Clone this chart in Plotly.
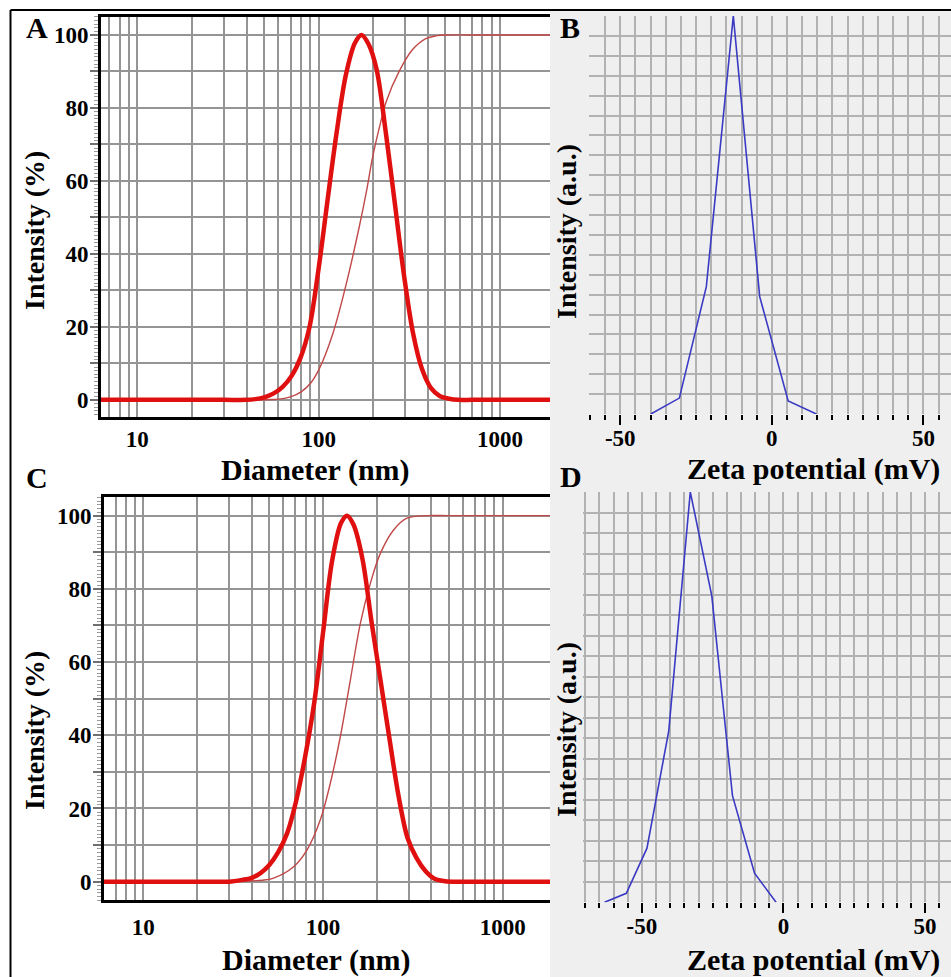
import math
import plotly.graph_objects as go

W, H = 951, 977

# ---------------- data ----------------
# Panel A: size distribution (intensity, thick) and cumulative curve (thin)
A_x = [6.3, 15, 30, 40, 44.7, 50.1, 56.2, 63.1, 70.8, 79.4, 89.1, 100, 112.2, 125.9, 141.3, 158.5, 172.6,
       188.4, 208.9, 234.4, 263, 295.1, 331.1, 371.5, 416.9, 467.7, 524.8, 588.8, 700, 1000, 1890]
A_y = [0, 0, 0, 0, 0.2, 0.7, 1.7, 3.5, 6.5, 11.5, 20, 36, 55, 73.5, 89, 97.8, 100,
       97.5, 90.5, 73.5, 54, 34.5, 18.5, 8.5, 3.2, 1.0, 0.3, 0, 0, 0, 0]
A_cum_x = [6.3, 20, 40, 55, 60, 70, 80, 90, 100.8, 119.5, 141.6, 167.7, 185, 198.5, 221, 235, 278, 330,
           390, 450, 500, 700, 1000, 1890]
A_cum_y = [0, 0, 0, 0.1, 0.2, 0.8, 2.2, 4.5, 8.5, 18, 31.5, 47.5, 58, 66.5, 76.5, 81.5, 90, 96,
           99, 99.8, 100, 100, 100, 100]

# Panel C
C_x = [6.04, 15, 25, 30, 35.5, 39.8, 44.7, 50.1, 56.2, 63.1, 70.8, 79.4, 89.1, 100, 112.2, 125.9, 136.1,
       147.9, 166, 186.2, 208.9, 234.4, 263, 295.1, 331.1, 371.5, 416.9, 467.7, 524.8, 700, 1833]
C_y = [0, 0, 0, 0, 0.5, 1.0, 2.3, 4.5, 8, 13.2, 22, 34, 48.5, 68, 87.5, 98, 100,
       97.5, 88, 71, 55, 39, 23.5, 12, 6.5, 2.9, 0.8, 0.2, 0, 0, 0]
C_cum_x = [6.04, 20, 30, 34.7, 46, 53.1, 68.6, 81.5, 96.6, 109.8, 124.8, 141.9, 161.3, 183.4, 208.5, 247,
           293, 380, 500, 800, 1833]
C_cum_y = [0, 0, 0, 0.1, 0.4, 1, 4.1, 8.7, 16.9, 26.9, 39.6, 55.1, 70.6, 81.5, 89.7, 96.1,
           99.3, 100, 100, 100, 100]

# Panels B and D: zeta potential
B_x = [-39.9, -30.5, -21.6, -12.7, -4.0, 5.4, 14.7]
B_y = [0, 4.0, 32.0, 100, 29.5, 3.3, 0]
D_x = [-63.2, -55.5, -48.2, -40.5, -32.9, -25.3, -18.0, -10.2, -2.6]
D_y = [0, 2.2, 13.2, 41.8, 100, 74.7, 26.0, 7.1, 0]

# tick labels
log_tickvals = [7, 8, 9, 10, 20, 30, 40, 50, 60, 70, 80, 90, 100, 200, 300, 400, 500, 600, 700, 800, 900, 1000]
log_ticktext = ["", "", "", "10", "", "", "", "", "", "", "", "", "100", "", "", "", "", "", "", "", "", "1000"]
pct_tickvals = [0, 10, 20, 30, 40, 50, 60, 70, 80, 90, 100]
pct_ticktext = ["0", "", "20", "", "40", "", "60", "", "80", "", "100"]
zeta_tickvals = [-50, 0, 50]
zeta_ticktext = ["-50", "0", "50"]

# ---------------- helpers ----------------
def px_x(x):
    return x / W


def px_y(y):
    return 1 - y / H


SERIF = "Liberation Serif, Times New Roman, serif"
GRID_L = "#959595"
GRID_R = "#b2b2b2"
THICK = "#e01010"
THIN = "#c04848"
BLUE = "#3a3ac4"

fig = go.Figure()

# size distributions
fig.add_trace(go.Scatter(x=A_cum_x, y=A_cum_y, mode="lines", line=dict(color=THIN, width=1.4, shape="spline", smoothing=1.0),
                         xaxis="x", yaxis="y", showlegend=False))
fig.add_trace(go.Scatter(x=A_x, y=A_y, mode="lines", line=dict(color=THICK, width=4.5, shape="spline", smoothing=0.9),
                         xaxis="x", yaxis="y", showlegend=False))
fig.add_trace(go.Scatter(x=C_cum_x, y=C_cum_y, mode="lines", line=dict(color=THIN, width=1.4, shape="spline", smoothing=1.0),
                         xaxis="x2", yaxis="y2", showlegend=False))
fig.add_trace(go.Scatter(x=C_x, y=C_y, mode="lines", line=dict(color=THICK, width=4.5, shape="spline", smoothing=0.9),
                         xaxis="x2", yaxis="y2", showlegend=False))
# zeta potentials
fig.add_trace(go.Scatter(x=B_x, y=B_y, mode="lines", line=dict(color=BLUE, width=1.6),
                         xaxis="x3", yaxis="y3", showlegend=False, cliponaxis=False))
fig.add_trace(go.Scatter(x=D_x, y=D_y, mode="lines", line=dict(color=BLUE, width=1.6),
                         xaxis="x4", yaxis="y4", showlegend=False, cliponaxis=False))

tickfont = dict(family=SERIF, size=23, color="black", weight="bold")


def log_xaxis(x0, x1, lo, hi, anchor, standoff):
    return dict(domain=[px_x(x0), px_x(x1)], type="log", range=[math.log10(lo), math.log10(hi)],
                tickmode="array", tickvals=log_tickvals, ticktext=log_ticktext, ticks="",
                showgrid=True, gridcolor=GRID_L, gridwidth=2, showline=True, linecolor="black",
                linewidth=3, mirror=True, tickfont=tickfont, anchor=anchor, zeroline=False,
                ticklabelstandoff=standoff, fixedrange=True)


def pct_yaxis(y0, y1, lo, hi, anchor):
    return dict(domain=[px_y(y1), px_y(y0)], range=[lo, hi], tickmode="array", tickvals=pct_tickvals,
                ticktext=pct_ticktext, ticks="outside", ticklen=8, tickwidth=2, tickcolor="#707070",
                minor=dict(tickmode="linear", tick0=0, dtick=1, ticks="outside", ticklen=4, tickwidth=1,
                           tickcolor="#9a9a9a", showgrid=False),
                showgrid=True, gridcolor=GRID_L, gridwidth=2, showline=True, linecolor="black", linewidth=3,
                mirror=False, zeroline=False, tickfont=tickfont, anchor=anchor, ticklabelstandoff=-3,
                fixedrange=True)


def zeta_xaxis(x0, lo, hi, anchor):
    return dict(domain=[px_x(x0), 1], range=[lo, hi], tickmode="array", tickvals=zeta_tickvals,
                ticktext=zeta_ticktext, ticks="outside", ticklen=10, tickwidth=2, tickcolor="black",
                minor=dict(tickmode="linear", tick0=0, dtick=5, ticks="outside", ticklen=5, tickwidth=2,
                           tickcolor="black", showgrid=True, gridcolor=GRID_R, gridwidth=2),
                showgrid=True, gridcolor=GRID_R, gridwidth=2, showline=False, zeroline=False,
                tickfont=tickfont, anchor=anchor, ticklabelstandoff=-7, fixedrange=True)


def zeta_yaxis(y0, y1, anchor):
    return dict(domain=[px_y(y1), px_y(y0)], range=[0, 100], dtick=5, tick0=0, showticklabels=False,
                ticks="", showgrid=True, gridcolor=GRID_R, gridwidth=2, showline=False, zeroline=False,
                anchor=anchor, fixedrange=True)


fig.update_layout(
    width=W, height=H, margin=dict(l=0, r=0, t=0, b=0),
    paper_bgcolor="white", plot_bgcolor="white",
    xaxis=log_xaxis(101, 550, 6.3, 1890, "y", -1),
    yaxis=pct_yaxis(16.7, 417, -4.7, 105, "x"),
    xaxis2=log_xaxis(104, 550, 6.04, 1833, "y2", 4),
    yaxis2=pct_yaxis(497, 900, -5.0, 105.1, "x2"),
    xaxis3=zeta_xaxis(589, -60.3, 59.1, "y3"),
    yaxis3=zeta_yaxis(16, 414, "x3"),
    xaxis4=zeta_xaxis(583, -70.8, 59.2, "y4"),
    yaxis4=zeta_yaxis(492, 902.3, "x4"),
    showlegend=False,
)

# light grey background behind the zeta-potential panels and the outer frame
fig.add_shape(type="rect", xref="paper", yref="paper", x0=px_x(550), x1=1.01, y0=-0.01, y1=px_y(11),
              fillcolor="#efefef", line=dict(width=0), layer="below")
fig.add_shape(type="line", xref="paper", yref="paper", x0=px_x(10.5), x1=1.01, y0=px_y(10), y1=px_y(10),
              line=dict(color="black", width=2))
fig.add_shape(type="line", xref="paper", yref="paper", x0=px_x(10.5), x1=px_x(10.5), y0=px_y(10), y1=-0.01,
              line=dict(color="black", width=2))


def label(text, x, y, size, angle=0):
    fig.add_annotation(text=text, x=px_x(x), y=px_y(y), xref="paper", yref="paper", showarrow=False,
                       xanchor="center", yanchor="middle", textangle=angle,
                       font=dict(family=SERIF, size=size, color="black", weight="bold"))


# panel letters
label("A", 37, 28, 30)
label("B", 570, 28, 30)
label("C", 37, 477, 30)
label("D", 571, 476, 30)
# axis titles
label("Intensity (%)", 34, 231, 28, -90)
label("Intensity (%)", 34, 731, 28, -90)
label("Diameter (nm)", 315, 470, 30)
label("Diameter (nm)", 316, 960, 30)
label("Intensity (a.u.)", 566, 232, 28, -90)
label("Intensity (a.u.)", 566, 730, 28, -90)
label("Zeta potential (mV)", 813, 469, 30)
label("Zeta potential (mV)", 813, 960, 30)

fig.write_html("out.html", config={"displayModeBar": False},
               post_script="document.body.style.margin='0';document.body.style.overflow='hidden';")
